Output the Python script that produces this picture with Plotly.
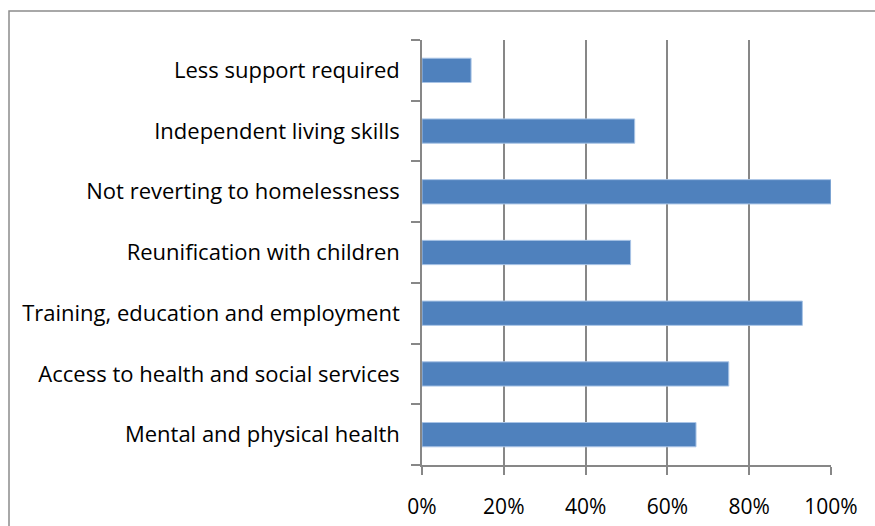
import plotly.graph_objects as go

# Share of respondents reporting each outcome
categories = [
    "Mental and physical health",
    "Access to health and social services",
    "Training, education and employment",
    "Reunification with children",
    "Not reverting to homelessness",
    "Independent living skills",
    "Less support required",
]
values = [0.67, 0.75, 0.93, 0.51, 1.00, 0.52, 0.12]
x_ticks = [0, 0.2, 0.4, 0.6, 0.8, 1.0]

W, H = 875, 526
ML, MR, MT, MB = 422, 44, 40, 61
pw, ph = W - ML - MR, H - MT - MB

grid = "#878787"
font = dict(family="Open Sans, Lato, sans-serif", size=21, color="#000000")

fig = go.Figure(
    go.Bar(
        y=categories,
        x=values,
        orientation="h",
        width=0.4,
        marker=dict(color="#4F81BD", line=dict(color="#A9C4E6", width=1)),
        hoverinfo="skip",
    )
)

# Outer chart frame (top and left edges visible, the rest runs off the page)
fx0 = (9 - ML) / pw
fy1 = 1 + (MT - 11) / ph
fig.add_shape(
    type="rect", xref="paper", yref="paper",
    x0=fx0, x1=1.5, y0=-0.5, y1=fy1,
    line=dict(color="#8C8C8C", width=1.5), fillcolor="rgba(0,0,0,0)",
    layer="below",
)

fig.update_layout(
    width=W, height=H,
    margin=dict(l=ML, r=MR, t=MT, b=MB, pad=0, autoexpand=False),
    paper_bgcolor="white", plot_bgcolor="white",
    font=font,
    showlegend=False,
    xaxis=dict(
        range=[0, 1], tickvals=x_ticks, tickformat=".0%",
        automargin=False,
        showgrid=True, gridcolor=grid, gridwidth=1.6,
        showline=True, linecolor=grid, linewidth=1.6,
        ticks="outside", ticklen=8, tickcolor=grid, tickwidth=1.6,
        zeroline=False, ticklabelstandoff=14,
    ),
    yaxis=dict(
        categoryorder="array", categoryarray=categories,
        automargin=False,
        tickfont=dict(size=22),
        showgrid=False, showline=True, linecolor=grid, linewidth=1.6,
        ticks="outside", ticklen=9, tickcolor=grid, tickwidth=1.6,
        tickson="boundaries", ticklabelstandoff=16,
    ),
)

fig.write_html("out.html")
